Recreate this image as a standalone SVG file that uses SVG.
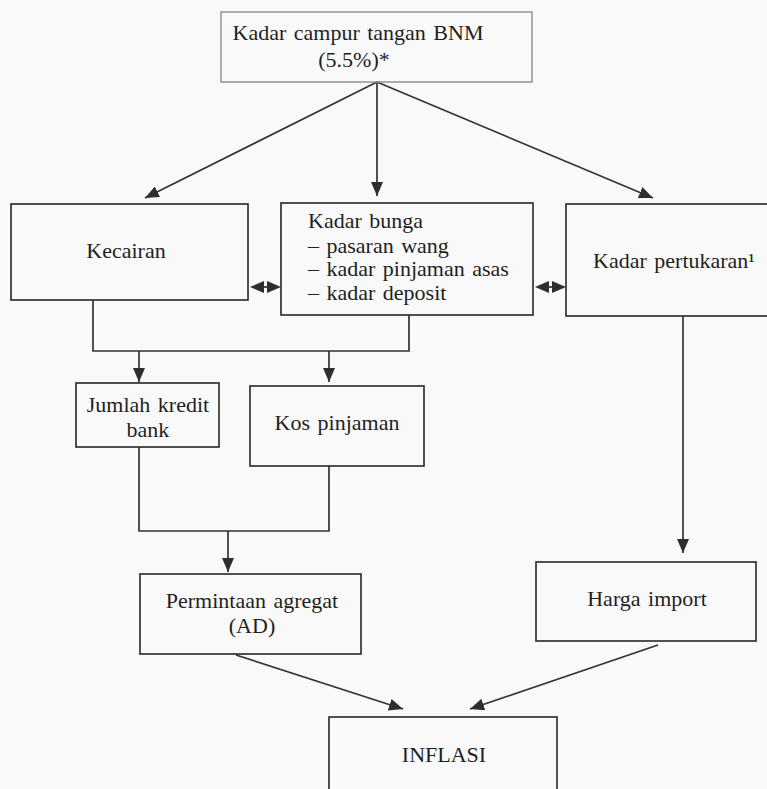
<svg xmlns="http://www.w3.org/2000/svg" width="767" height="789" viewBox="0 0 767 789">
<defs>
<style>
.box{fill:none;stroke:#333;stroke-width:1.7}
.lbox{fill:none;stroke:#8e8e8e;stroke-width:1.4}
.t{font-family:"Liberation Serif","Times New Roman",serif;font-size:22px;fill:#1f1f1f;word-spacing:2px}
.c{fill:none;stroke:#333;stroke-width:1.7}
.a{fill:#2e2e2e}
</style>
<marker id="ah" markerUnits="userSpaceOnUse" markerWidth="15" markerHeight="12" refX="14" refY="6" orient="auto">
<path d="M0,0 L14,6 L0,12 z" class="a"/>
</marker>
</defs>
<rect x="0" y="0" width="767" height="789" fill="#f9f9f9"/>

<g id="connectors">
<line class="c" x1="377" y1="82" x2="145" y2="198" marker-end="url(#ah)"/>
<line class="c" x1="377" y1="82" x2="377" y2="196" marker-end="url(#ah)"/>
<line class="c" x1="377" y1="82" x2="653" y2="198" marker-end="url(#ah)"/>
<path class="c" d="M93,300 V351 H409 V315"/>
<line class="c" x1="139" y1="351" x2="139" y2="382" marker-end="url(#ah)"/>
<line class="c" x1="329" y1="351" x2="329" y2="382" marker-end="url(#ah)"/>
<path class="c" d="M139,447 V531 H329 V466"/>
<line class="c" x1="228" y1="531" x2="228" y2="572" marker-end="url(#ah)"/>
<line class="c" x1="683" y1="316" x2="683" y2="553" marker-end="url(#ah)"/>
<line class="c" x1="236" y1="655" x2="403" y2="709" marker-end="url(#ah)"/>
<line class="c" x1="658" y1="645" x2="470" y2="709" marker-end="url(#ah)"/>
<g id="dbl1">
<polygon class="a" points="250,287 264,281 264,293"/>
<polygon class="a" points="281,287 267,281 267,293"/>
<line class="c" x1="262" y1="287" x2="269" y2="287"/>
</g>
<g id="dbl2">
<polygon class="a" points="535,287 549,281 549,293"/>
<polygon class="a" points="566,287 552,281 552,293"/>
<line class="c" x1="547" y1="287" x2="554" y2="287"/>
</g>
</g>

<g id="node-bnm">
<rect class="lbox" x="221" y="12" width="311" height="70"/>
<text class="t" x="358" y="40" text-anchor="middle">Kadar campur tangan BNM</text>
<text class="t" x="354" y="67" text-anchor="middle">(5.5%)*</text>
</g>

<g id="node-kecairan">
<rect class="box" x="11" y="204" width="237" height="96"/>
<text class="t" x="126" y="258" text-anchor="middle">Kecairan</text>
</g>

<g id="node-bunga">
<rect class="box" x="281" y="203" width="252" height="112"/>
<text class="t" x="308" y="228">Kadar bunga</text>
<text class="t" x="308" y="253">– pasaran wang</text>
<text class="t" x="308" y="276">– kadar pinjaman asas</text>
<text class="t" x="308" y="300">– kadar deposit</text>
</g>

<g id="node-pertukaran">
<rect class="box" x="566" y="204" width="220" height="112"/>
<text class="t" x="674" y="268" text-anchor="middle">Kadar pertukaran¹</text>
</g>

<g id="node-kredit">
<rect class="box" x="76" y="383" width="143" height="64"/>
<text class="t" x="148" y="412" text-anchor="middle">Jumlah kredit</text>
<text class="t" x="148" y="437" text-anchor="middle">bank</text>
</g>

<g id="node-kos">
<rect class="box" x="250" y="386" width="174" height="80"/>
<text class="t" x="337" y="430" text-anchor="middle">Kos pinjaman</text>
</g>

<g id="node-ad">
<rect class="box" x="140" y="574" width="221" height="80"/>
<text class="t" x="252" y="608" text-anchor="middle">Permintaan agregat</text>
<text class="t" x="252" y="633" text-anchor="middle">(AD)</text>
</g>

<g id="node-import">
<rect class="box" x="536" y="562" width="220" height="79"/>
<text class="t" x="647" y="606" text-anchor="middle">Harga import</text>
</g>

<g id="node-inflasi">
<rect class="box" x="329" y="717" width="228" height="90"/>
<text class="t" x="444" y="762" text-anchor="middle">INFLASI</text>
</g>
</svg>
